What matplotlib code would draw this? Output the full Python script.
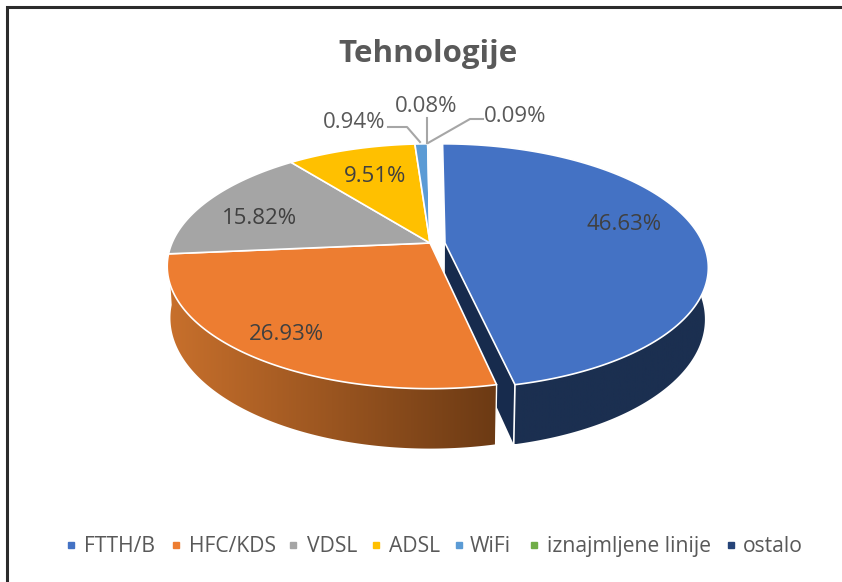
import numpy as np
import matplotlib
matplotlib.use("Agg")
import matplotlib.pyplot as plt
from matplotlib.colors import LinearSegmentedColormap
from matplotlib.patches import Polygon

# Data
categories = ["FTTH/B", "HFC/KDS", "VDSL", "ADSL", "WiFi", "iznajmljene linije", "ostalo"]
shares = [46.63, 26.93, 15.82, 9.51, 0.94, 0.08, 0.09]
colors = ["#4472C4", "#ED7D31", "#A5A5A5", "#FFC000", "#5B9BD5", "#70AD47", "#264478"]

# Label centres in pixels
label_pos = [(624, 224), (286, 334), (259, 219), (375, 177), (354, 122), (426, 106), (515, 116)]

# Legend layout in pixels
legend_marks = [71, 176, 293, 376, 459, 534, 731]
legend_texts = [84, 189, 307, 389, 470, 547, 743]

FONT = "Open Sans"
CX, CY = 430, 243
A, B, K = 258, 118, 0.19     # radii and perspective strength
DEPTH, SHRINK = 51, 0.012    # extrusion of the pie
EXPLODE = 0.058              # shift of first slice, in pie radii


def project(theta, r=1.0, low=False, shift=0.0):
    # theta is clockwise from 12 o'clock
    u = r * np.sin(theta) + shift
    v = r * np.cos(theta)
    w = 1 + K * v + (SHRINK if low else 0)
    x = CX + A * u / w
    y = CY + (-B * v + (DEPTH if low else 0)) / w
    return x, y


def side(ax, t0, t1, shift, c_left, c_right):
    # outer wall of a slice, filled with a left to right gradient
    ts = np.linspace(t0, t1, 200)
    x1, y1 = project(ts, shift=shift)
    x2, y2 = project(ts, low=True, shift=shift)
    pts = np.column_stack([np.r_[x1, x2[::-1]], np.r_[y1, y2[::-1]]])
    patch = Polygon(pts, closed=True, facecolor="none", edgecolor="none", transform=ax.transData)
    ax.add_patch(patch)
    cmap = LinearSegmentedColormap.from_list("side", [c_left, c_right])
    left, right = pts[:, 0].min(), pts[:, 0].max()
    im = ax.imshow(np.linspace(0, 1, 256).reshape(1, -1), cmap=cmap, aspect="auto",
                   extent=[left, right, pts[:, 1].max(), pts[:, 1].min()], zorder=1.5)
    im.set_clip_path(patch)


def top(ax, t0, t1, shift, color):
    ts = np.linspace(t0, t1, max(int((t1 - t0) * 90), 3))
    x, y = project(ts, shift=shift)
    xc, yc = project(0.0, r=0.0, shift=shift)
    pts = np.vstack([[xc, yc], np.column_stack([x, y])])
    ax.add_patch(Polygon(pts, closed=True, facecolor=color, edgecolor="white", lw=1.2,
                         joinstyle="round", zorder=3))


fig = plt.figure(figsize=(8.42, 5.82), dpi=100)
ax = fig.add_axes([0, 0, 1, 1])
ax.axis("off")

# chart frame, top and left only
ax.plot([7, 7, 842], [582, 7, 7], color="#2B2B2B", lw=2.2, solid_joinstyle="miter")

edges = np.r_[0, np.cumsum(shares)] / sum(shares) * 2 * np.pi

# inner wall of exploded slice, goes behind the orange one
xa, ya = project(edges[1], shift=EXPLODE)
xb, yb = project(edges[1], low=True, shift=EXPLODE)
xc, yc = project(0.0, r=0.0, shift=EXPLODE)
xd, yd = project(0.0, r=0.0, low=True, shift=EXPLODE)
wall = [(xc, yc), (xa, ya), (xb, yb), (xd, yd)]
ax.add_patch(Polygon(wall, closed=True, facecolor="#172B4D", edgecolor="none", zorder=1))

# outer sides, the back part of the blue wall is hidden anyway
side(ax, edges[1], edges[2], 0, "#C8702C", "#6C3A14")
side(ax, 0.5, edges[1], EXPLODE, "#1B2F50", "#1B2F50")
ax.plot([xa, xb], [ya, yb], color="white", lw=1.2, zorder=2)
xo, yo = project(edges[1])
xp, yp = project(edges[1], low=True)
ax.plot([xo, xp], [yo, yp], color="white", lw=1.0, zorder=2)

# top faces
for i in range(1, len(shares)):
    top(ax, edges[i], edges[i + 1], 0, colors[i])
top(ax, edges[0], edges[1], EXPLODE, colors[0])

# leader lines for the small slices
ax.plot([388, 407, 420], [127, 127, 142], color="#A6A6A6", lw=1.5, zorder=4)
ax.plot([427, 427], [118, 143], color="#A6A6A6", lw=1.5, zorder=4)
ax.plot([483, 470, 428], [119, 119, 143], color="#A6A6A6", lw=1.5, zorder=4)

# data labels
for i, (x, y) in enumerate(label_pos):
    txt_col = "#404040" if i < 4 else "#595959"
    ax.text(x, y, f"{shares[i]:.2f}%", ha="center", va="center", fontsize=16,
            family=FONT, color=txt_col, zorder=5)

ax.text(428, 54, "Tehnologije", ha="center", va="center", fontsize=22.5,
        family=FONT, fontweight="bold", color="#595959")

# legend
for name, col, xm, xt in zip(categories, colors, legend_marks, legend_texts):
    ax.plot([xm], [545], linestyle="none", marker="s", markersize=4.8, color=col)
    ax.text(xt, 552, name, ha="left", va="baseline", fontsize=15.2, family=FONT, color="#595959")

ax.set_xlim(0, 842)
ax.set_ylim(582, 0)

fig.savefig("out.png", dpi=100)
